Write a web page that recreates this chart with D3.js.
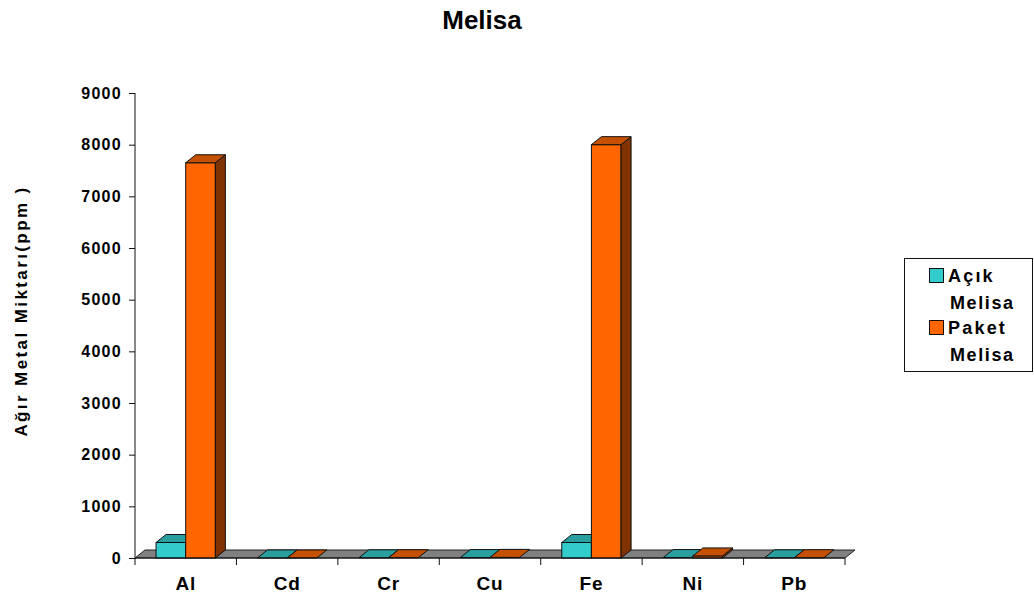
<!DOCTYPE html>
<html>
<head>
<meta charset="utf-8">
<script src="https://cdn.jsdelivr.net/npm/d3@7"></script>
<style>
  html, body { margin: 0; padding: 0; background: #fff; }
  svg { display: block; font-family: "Liberation Sans", Arial, sans-serif; }
</style>
</head>
<body>
<svg id="chart" width="1034" height="602"></svg>
<script>
// Heavy metal content of melissa samples (ppm)
const categories = ["Al", "Cd", "Cr", "Cu", "Fe", "Ni", "Pb"];
const seriesNames = ["Açık Melisa", "Paket Melisa"];
const acikValues = [300, 1, 4, 8, 300, 8, 4];
const paketValues = [7650, 1, 6, 12, 8000, 40, 5];
const yTicks = [0, 1000, 2000, 3000, 4000, 5000, 6000, 7000, 8000, 9000];

const palette = [
  { front: "#33cccc", top: "#299f9f", side: "#1f7a7a" },
  { front: "#ff6600", top: "#c45000", side: "#803300" }
];

const svg = d3.select("#chart");
const depthX = 10, depthY = -8;
const fontFam = "'Liberation Sans', Arial, sans-serif";

const y = d3.scaleLinear().domain([0, 9000]).range([558, 93]);
const x = d3.scaleBand().domain(categories).range([135, 845]).paddingInner(0).paddingOuter(0);
const xs = d3.scaleBand().domain(seriesNames).range([0, x.bandwidth()]).paddingInner(0).paddingOuter(0.71);

// Title
svg.append("text")
  .attr("x", 482).attr("y", 29)
  .attr("text-anchor", "middle")
  .attr("font-size", 26).attr("font-weight", "bold")
  .text("Melisa");

// Y axis title
svg.append("text")
  .attr("transform", "translate(27,311) rotate(-90)")
  .attr("text-anchor", "middle")
  .attr("font-size", 17).attr("font-weight", "bold").attr("letter-spacing", 2.4)
  .text("Ağır Metal Miktarı(ppm )");

// Floor
const x0 = 135, x1 = 845, y0 = y(0);
svg.append("path")
  .attr("d", `M${x0},${y0} L${x0 + depthX},${y0 + depthY} L${x1 + depthX},${y0 + depthY} L${x1},${y0} Z`)
  .attr("fill", "#808080").attr("stroke", "#222").attr("stroke-width", 1);

// Bars
const rows = categories.map((c, i) => ({ cat: c, vals: [acikValues[i], paketValues[i]] }));
const g = svg.append("g");
rows.forEach(r => {
  r.vals.forEach((v, si) => {
    const bx = x(r.cat) + xs(seriesNames[si]);
    const bw = xs.bandwidth();
    const top = y(v);
    const col = palette[si];
    const bar = g.append("g");
    if (y0 - top >= 1) {
      bar.append("rect")
        .attr("x", bx).attr("y", top).attr("width", bw).attr("height", y0 - top)
        .attr("fill", col.front).attr("stroke", "#111").attr("stroke-width", 1);
      bar.append("path")
        .attr("d", `M${bx + bw},${top} L${bx + bw + depthX},${top + depthY} L${bx + bw + depthX},${y0 + depthY} L${bx + bw},${y0} Z`)
        .attr("fill", col.side).attr("stroke", "#111").attr("stroke-width", 1);
    }
    bar.append("path")
      .attr("d", `M${bx},${top} L${bx + depthX},${top + depthY} L${bx + bw + depthX},${top + depthY} L${bx + bw},${top} Z`)
      .attr("fill", col.top).attr("stroke", "#111").attr("stroke-width", 1);
  });
});

// Y axis
const yAxis = d3.axisLeft(y).tickValues(yTicks).tickSize(6).tickPadding(7).tickFormat(d3.format("d"));
const ya = svg.append("g").attr("transform", "translate(135,0)").call(yAxis);
ya.select(".domain").attr("d", "M0,93 V565").attr("stroke", "#111");
ya.selectAll(".tick line").attr("stroke", "#111");
ya.selectAll(".tick text").attr("font-size", 16).attr("font-weight", "bold")
  .attr("letter-spacing", 1.3)
  .attr("font-family", fontFam).attr("fill", "#000");

// X axis
const xAxis = d3.axisBottom(x).tickSize(0);
const xa = svg.append("g").attr("transform", `translate(0,${y0})`).call(xAxis);
xa.select(".domain").attr("d", `M${x0},0 H${x1}`).attr("stroke", "#111");
xa.selectAll(".tick text").attr("y", 32).attr("dy", null)
  .attr("font-size", 19).attr("font-weight", "bold").attr("letter-spacing", 0.8)
  .attr("font-family", fontFam).attr("fill", "#000");
// Category separators
xa.selectAll(".sep").data(categories)
  .enter().append("line").attr("class", "sep")
  .attr("x1", d => x(d) + x.step()).attr("x2", d => x(d) + x.step())
  .attr("y1", 0).attr("y2", 7).attr("stroke", "#111");

// Legend
const lg = svg.append("g");
lg.append("rect").attr("x", 904.5).attr("y", 258.5).attr("width", 128).attr("height", 113)
  .attr("fill", "#fff").attr("stroke", "#111");
const legendRows = [
  { name: seriesNames[0], y: 282 },
  { name: seriesNames[1], y: 334 }
];
legendRows.forEach((r, i) => {
  const words = r.name.split(" ");
  lg.append("rect").attr("x", 929.5).attr("y", r.y - 13.5).attr("width", 14).attr("height", 14)
    .attr("fill", palette[i].front).attr("stroke", "#111");
  lg.append("text").attr("x", 948).attr("y", r.y)
    .attr("font-size", 18).attr("font-weight", "bold").attr("letter-spacing", 2.2)
    .text(words[0]);
  lg.append("text").attr("x", 950).attr("y", r.y + 27)
    .attr("font-size", 18).attr("font-weight", "bold").attr("letter-spacing", 1.6)
    .text(words[1]);
});
</script>
</body>
</html>
